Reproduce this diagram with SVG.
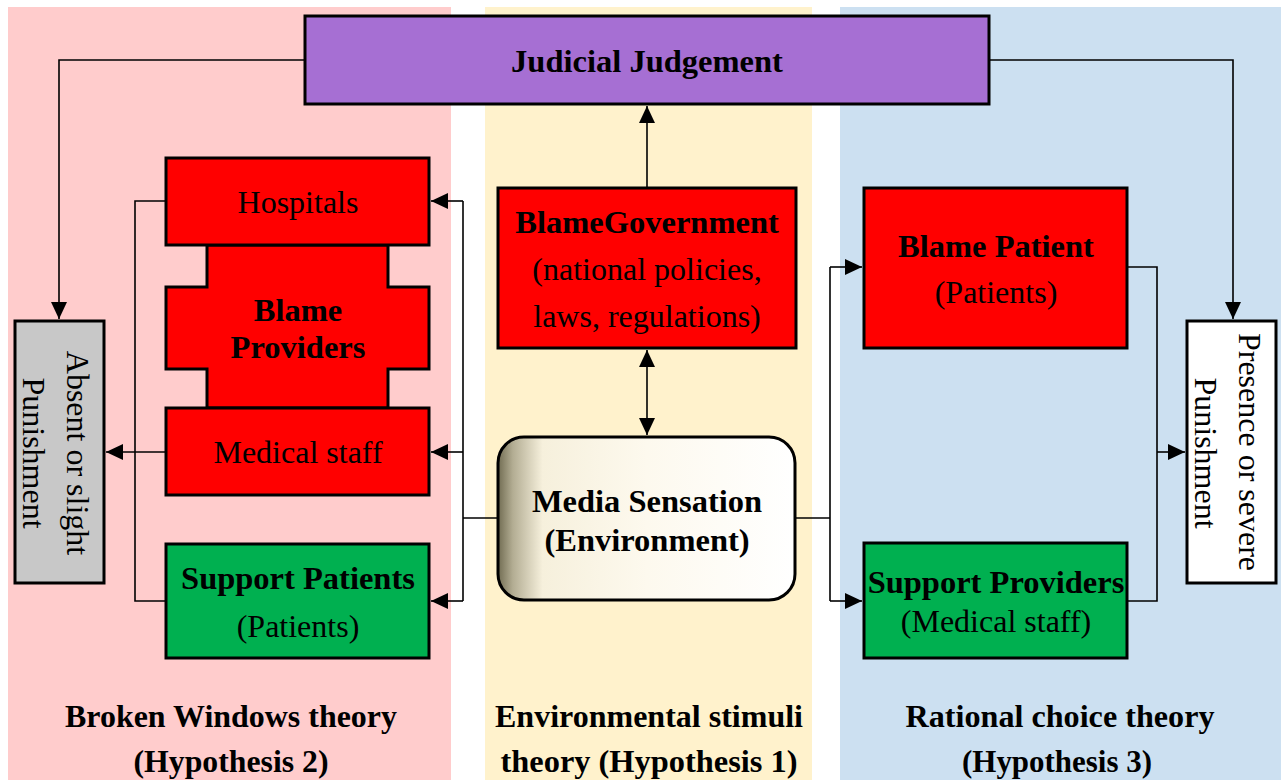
<svg xmlns="http://www.w3.org/2000/svg" width="1286" height="780" viewBox="0 0 1286 780">
<style>
.box{stroke:#000;stroke-width:3}
.red{fill:#FF0000}
.green{fill:#00B050}
.t{font-family:"Liberation Serif","Times New Roman",Tinos,"DejaVu Serif",serif;font-size:32px;font-weight:normal;fill:#000;text-anchor:middle}
.b{font-weight:bold;font-size:32.5px}
.cap{font-family:"Liberation Serif","Times New Roman",Tinos,"DejaVu Serif",serif;font-size:32px;font-weight:bold;fill:#000;text-anchor:middle}
.c{fill:none;stroke:#000;stroke-width:1.6}
</style>
<defs>
<marker id="ah" markerUnits="userSpaceOnUse" markerWidth="18" markerHeight="16" refX="17" refY="8" orient="auto-start-reverse">
<path d="M0,0 L17,8 L0,16 Z" fill="#000"/>
</marker>
<linearGradient id="media" x1="0" y1="0" x2="1" y2="0">
<stop offset="0" stop-color="#716c52"/>
<stop offset="0.05" stop-color="#b3ad93"/>
<stop offset="0.15" stop-color="#f6f0dc"/>
<stop offset="0.5" stop-color="#fdf9ee"/>
<stop offset="1" stop-color="#ffffff"/>
</linearGradient>
</defs>
<rect width="1286" height="780" fill="#fff"/>
<g id="panels">
<rect x="8" y="7" width="443" height="773" fill="#FFCCCC"/>
<rect x="485" y="7" width="327" height="773" fill="#FFF2CC"/>
<rect x="840" y="7" width="441" height="773" fill="#CCE0F1"/>
</g>
<g id="connectors">
<polyline class="c" points="305,60 59,60 59,319" marker-end="url(#ah)"/>
<polyline class="c" points="989,60 1233,60 1233,319" marker-end="url(#ah)"/>
<line class="c" x1="647" y1="188" x2="647" y2="106" marker-end="url(#ah)"/>
<line class="c" x1="647" y1="350" x2="647" y2="435" marker-start="url(#ah)" marker-end="url(#ah)"/>
<polyline class="c" points="166,201 135,201 135,601 166,601"/>
<line class="c" x1="166" y1="452" x2="106" y2="452" marker-end="url(#ah)"/>
<polyline class="c" points="498,518 463,518"/>
<line class="c" x1="463" y1="201" x2="463" y2="601"/>
<line class="c" x1="463" y1="201" x2="431" y2="201" marker-end="url(#ah)"/>
<line class="c" x1="463" y1="452" x2="431" y2="452" marker-end="url(#ah)"/>
<line class="c" x1="463" y1="601" x2="431" y2="601" marker-end="url(#ah)"/>
<polyline class="c" points="795,518 830,518"/>
<line class="c" x1="830" y1="267" x2="830" y2="601"/>
<line class="c" x1="830" y1="267" x2="862" y2="267" marker-end="url(#ah)"/>
<line class="c" x1="830" y1="601" x2="862" y2="601" marker-end="url(#ah)"/>
<polyline class="c" points="1127,267 1157,267 1157,601 1127,601"/>
<line class="c" x1="1157" y1="452" x2="1185" y2="452" marker-end="url(#ah)"/>
</g>
<g id="judicial">
<rect class="box" x="305" y="16" width="684" height="88" fill="#A66FD3"/>
<text class="t b" x="647" y="72">Judicial Judgement</text>
</g>
<g id="blame-providers">
<polygon class="box red" points="207,245 388,245 388,287 429,287 429,369 388,369 388,408 207,408 207,369 166,369 166,287 207,287"/>
<text class="t b" x="298" y="321">Blame</text>
<text class="t b" x="298" y="358">Providers</text>
</g>
<g id="hospitals">
<rect class="box red" x="166" y="158" width="263" height="87"/>
<text class="t" x="298" y="213">Hospitals</text>
</g>
<g id="medical-staff">
<rect class="box red" x="166" y="408" width="263" height="87"/>
<text class="t" x="298" y="463">Medical staff</text>
</g>
<g id="support-patients">
<rect class="box green" x="166" y="544" width="263" height="114"/>
<text class="t b" x="298" y="589">Support Patients</text>
<text class="t" x="298" y="637">(Patients)</text>
</g>
<g id="absent">
<rect class="box" x="15" y="321" width="89" height="262" fill="#C8C8C8"/>
<text class="t" transform="translate(67,453) rotate(90)">Absent or slight</text>
<text class="t" transform="translate(23,453) rotate(90)">Punishment</text>
</g>
<g id="blame-government">
<rect class="box red" x="498" y="188" width="298" height="160"/>
<text class="t b" x="647" y="233">BlameGovernment</text>
<text class="t" x="647" y="280">(national policies,</text>
<text class="t" x="647" y="327">laws, regulations)</text>
</g>
<g id="media-sensation">
<rect class="box" x="498" y="437" width="297" height="163" rx="26" ry="26" fill="url(#media)"/>
<text class="t b" x="647" y="512">Media Sensation</text>
<text class="t b" x="647" y="551">(Environment)</text>
</g>
<g id="blame-patient">
<rect class="box red" x="864" y="188" width="263" height="160"/>
<text class="t b" x="996" y="257">Blame Patient</text>
<text class="t" x="996" y="303">(Patients)</text>
</g>
<g id="support-providers">
<rect class="box green" x="864" y="543" width="263" height="115"/>
<text class="t b" x="996" y="593">Support Providers</text>
<text class="t" x="996" y="632">(Medical staff)</text>
</g>
<g id="presence">
<rect class="box" x="1187" y="321" width="89" height="262" fill="#FFFFFF"/>
<text class="t" transform="translate(1239,452) rotate(90)">Presence or severe</text>
<text class="t" transform="translate(1195,453) rotate(90)">Punishment</text>
</g>
<g id="captions">
<text class="cap" x="231" y="727" textLength="332" lengthAdjust="spacingAndGlyphs">Broken Windows theory</text>
<text class="cap" x="231" y="772" textLength="195" lengthAdjust="spacingAndGlyphs">(Hypothesis 2)</text>
<text class="cap" x="649" y="727" textLength="308" lengthAdjust="spacingAndGlyphs">Environmental stimuli</text>
<text class="cap" x="649" y="772" textLength="297" lengthAdjust="spacingAndGlyphs">theory (Hypothesis 1)</text>
<text class="cap" x="1060" y="727" textLength="309" lengthAdjust="spacingAndGlyphs">Rational choice theory</text>
<text class="cap" x="1057" y="772" textLength="190" lengthAdjust="spacingAndGlyphs">(Hypothesis 3)</text>
</g>
</svg>
